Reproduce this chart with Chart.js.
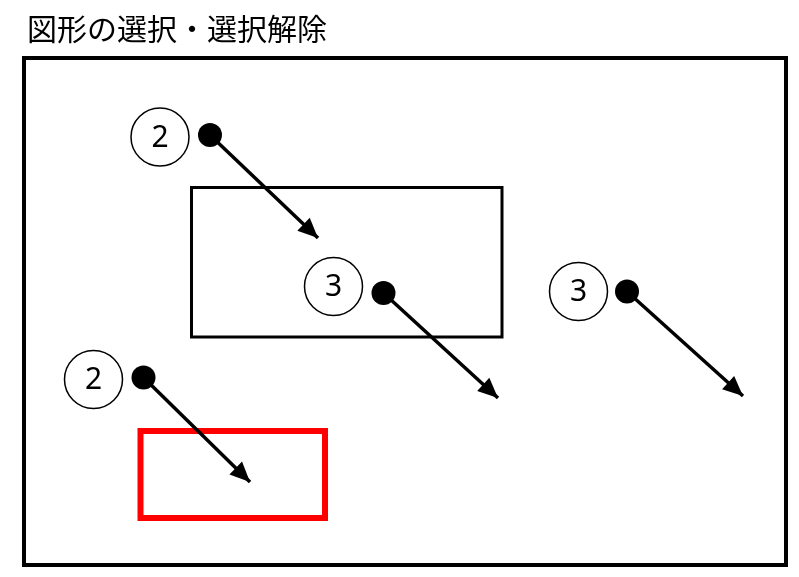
<!DOCTYPE html>
<html>
<head>
<meta charset="utf-8">
<script src="https://cdn.jsdelivr.net/npm/chart.js@4.4.0/dist/chart.umd.min.js"></script>
<style>
  html, body { margin: 0; padding: 0; background: #fff; }
  #wrap { width: 799px; height: 577px; position: relative; }
</style>
</head>
<body>
<div id="wrap"><canvas id="diagram"></canvas></div>
<script>
// Datos del diagrama (unidades = px del lienzo, eje Y invertido)
const titleText = '図形の選択・選択解除';
const circleLabels = ['2', '3', '3', '2'];
const circleX = [160, 333.5, 578.5, 93.5];
const circleY = [137, 286.5, 291.5, 379.5];
const arrowStartX = [210, 383.5, 627, 143.5];
const arrowStartY = [135, 293, 291.5, 377.5];
const arrowEndX = [318, 498, 743, 250];
const arrowEndY = [238, 398, 396, 482];
// cajas: izquierda, arriba, derecha, abajo
const frameBox = [24, 58, 786, 565];
const selectBox = [191.5, 187.5, 502, 337];
const redBox = [140.5, 431, 325, 518];

function boxPoints(b) {
    return [
        { x: b[0], y: b[1] }, { x: b[2], y: b[1] },
        { x: b[2], y: b[3] }, { x: b[0], y: b[3] }, { x: b[0], y: b[1] }
    ];
}

const datasets = [];

// Círculos con número
datasets.push({
    type: 'scatter',
    data: circleX.map((x, i) => ({ x: x, y: circleY[i] })),
    pointRadius: 29,
    pointBackgroundColor: '#fff',
    pointBorderColor: '#000',
    pointBorderWidth: 1.5,
    order: 0,
    clip: false
});

// Puntos negros de inicio
datasets.push({
    type: 'scatter',
    data: arrowStartX.map((x, i) => ({ x: x, y: arrowStartY[i] })),
    pointRadius: 12,
    pointBackgroundColor: '#000',
    pointBorderWidth: 0,
    order: 1,
    clip: false
});

// Flechas
arrowStartX.forEach((x, i) => {
    datasets.push({
        type: 'line',
        isArrow: true,
        data: [{ x: x, y: arrowStartY[i] }, { x: arrowEndX[i], y: arrowEndY[i] }],
        borderColor: '#000',
        borderWidth: 3.5,
        pointRadius: 0,
        order: 2,
        clip: false
    });
});

// Rectángulos (cap cuadrado para cerrar bien la esquina inicial)
[[frameBox, '#000', 4], [selectBox, '#000', 3], [redBox, '#ff0000', 6]].forEach(r => {
    datasets.push({
        type: 'line',
        data: boxPoints(r[0]),
        borderColor: r[1],
        borderWidth: r[2],
        borderJoinStyle: 'miter',
        borderCapStyle: 'square',
        pointRadius: 0,
        fill: false,
        order: 5,
        clip: false
    });
});

// Puntas de flecha + textos
const diagramPlugin = {
    id: 'diagramPlugin',
    afterDatasetsDraw(chart) {
        const ctx = chart.ctx;
        chart.data.datasets.forEach((ds, i) => {
            if (!ds.isArrow) return;
            const pts = chart.getDatasetMeta(i).data;
            const a = pts[0], b = pts[1];
            const ang = Math.atan2(b.y - a.y, b.x - a.x);
            const len = 20, half = 9;
            ctx.save();
            ctx.translate(b.x, b.y);
            ctx.rotate(ang);
            ctx.beginPath();
            ctx.moveTo(0, 0);
            ctx.lineTo(-len, -half);
            ctx.lineTo(-len, half);
            ctx.closePath();
            ctx.fillStyle = '#000';
            ctx.fill();
            ctx.restore();
        });

        const xs = chart.scales.x, ys = chart.scales.y;
        ctx.save();
        ctx.fillStyle = '#000';
        ctx.textAlign = 'center';
        ctx.textBaseline = 'middle';
        ctx.font = '30px "Noto Sans", "DejaVu Sans", sans-serif';
        circleLabels.forEach((t, i) => {
            ctx.fillText(t, xs.getPixelForValue(circleX[i]), ys.getPixelForValue(circleY[i]) + 1);
        });
        ctx.textAlign = 'left';
        ctx.font = '30px "Noto Sans CJK JP", sans-serif';
        ctx.fillText(titleText, xs.getPixelForValue(27), ys.getPixelForValue(29));
        ctx.restore();
    }
};

new Chart(document.getElementById('diagram'), {
    type: 'scatter',
    data: { datasets: datasets },
    options: {
        responsive: true,
        maintainAspectRatio: false,
        animation: false,
        layout: { padding: 0, autoPadding: false },
        plugins: {
            legend: { display: false },
            tooltip: { enabled: false },
            title: { display: false }
        },
        scales: {
            x: { type: 'linear', min: 0, max: 799, display: false },
            y: { type: 'linear', min: 0, max: 577, reverse: true, display: false }
        }
    },
    plugins: [diagramPlugin]
});
</script>
</body>
</html>
